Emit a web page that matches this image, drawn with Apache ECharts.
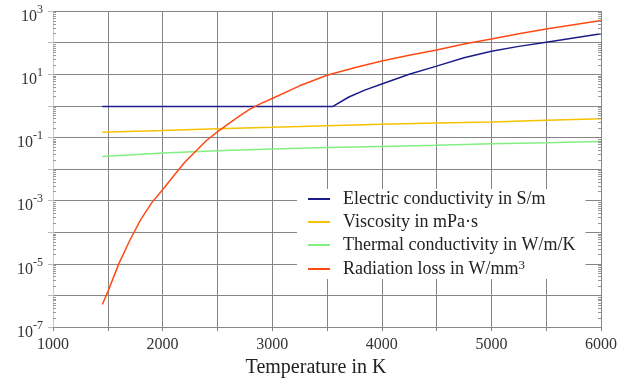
<!DOCTYPE html>
<html><head><meta charset="utf-8">
<script src="https://cdn.jsdelivr.net/npm/echarts@6/dist/echarts.min.js"></script>
<style>html,body{margin:0;padding:0;background:#fff}#c{width:629px;height:383px}</style>
</head><body><div id="c"></div>
<script>
// ---- data ----
const elecT = [1450, 3550, 3700, 3850, 4000, 4250, 4500, 4750, 5000, 5250, 5500, 5750, 6000];
const elecV = [0.95, 0.95, 1.9, 3.2, 4.9, 10, 18, 33, 53, 76, 103, 140, 190];
const viscT = [1450, 2000, 2500, 3000, 3500, 4000, 4500, 5000, 5500, 6000];
const viscV = [0.145, 0.165, 0.19, 0.21, 0.235, 0.26, 0.285, 0.31, 0.35, 0.39];
const thermT = [1450, 2000, 2500, 3000, 3500, 4000, 4500, 5000, 5500, 6000];
const thermV = [0.025, 0.032, 0.038, 0.043, 0.048, 0.052, 0.057, 0.063, 0.068, 0.075];
const radT = [1450, 1500, 1600, 1700, 1800, 1900, 2000, 2100, 2200, 2300, 2400, 2500, 2600, 2700, 2800, 2900, 3000, 3250, 3500, 3750, 4000, 4250, 4500, 4750, 5000, 5250, 5500, 5750, 6000];
const radV = [5.2e-7, 1.3e-6, 1e-5, 5.5e-5, 2.5e-4, 8.5e-4, 2.2e-3, 6e-3, 0.016, 0.036, 0.08, 0.15, 0.27, 0.47, 0.8, 1.2, 1.7, 4.3, 9.3, 16, 26, 40, 58, 90, 130, 190, 270, 370, 500];
const seriesNames = ['Electric conductivity in S/m', 'Viscosity in mPa·s', 'Thermal conductivity in W/m/K', 'Radiation loss in W/mm3'];
const seriesColors = ['#1c1c8a', '#f7c200', '#80f080', '#ff4a14'];
const xMin = 1000, xMax = 6000, xStep = 500, xLabelStep = 1000;
const yMin = 1e-7, yMax = 1e3;

const FONT = 'Liberation Serif';
function pairs(t, v) { return t.map((x, i) => [x, v[i]]); }

// minor log ticks (axis decoration)
const minorTicks = [];
for (let e = -7; e < 3; e++) for (let m = 2; m <= 9; m++) minorTicks.push([xMin, m * Math.pow(10, e)]);

const chart = echarts.init(document.getElementById('c'), null, {renderer: 'canvas'});
const line = (name, data, color) => ({
  name, type: 'line', data, showSymbol: false, symbol: 'none', animation: false,
  lineStyle: {color, width: 1.5}, itemStyle: {color}, z: 3
});
chart.setOption({
  animation: false,
  grid: {left: 53, right: 28, top: 11, bottom: 52},
  xAxis: {
    type: 'value', min: xMin, max: xMax, interval: xStep,
    name: 'Temperature in K', nameLocation: 'middle', nameGap: 27,
    nameTextStyle: {fontFamily: FONT, fontSize: 20, color: '#222', padding: [0, 22, 0, 0]},
    axisLine: {show: true, lineStyle: {color: '#888', width: 1}},
    axisTick: {show: true, inside: false, length: 4, lineStyle: {color: '#888'}},
    axisLabel: {
      fontFamily: FONT, fontSize: 16, color: '#333', margin: 10,
      formatter: function (v) { return v % xLabelStep === 0 ? String(v) : ''; }
    },
    splitLine: {show: true, lineStyle: {color: '#858585', width: 1}}
  },
  yAxis: {
    type: 'log', logBase: 10, min: yMin, max: yMax, interval: 1,
    axisLine: {show: true, lineStyle: {color: '#c8c8c8', width: 1}},
    axisTick: {show: true, inside: false, length: 5, lineStyle: {color: '#bbb'}},
    axisLabel: {
      margin: 10, padding: [11, 0, 0, 0], showMinLabel: true, showMaxLabel: true,
      formatter: function (v) {
        const e = Math.round(Math.log10(v));
        if (Math.abs(e) % 2 !== 1) return '';
        return '{b|10}{s|' + (e < 0 ? '-' + (-e) : e) + '}';
      },
      rich: {
        b: {fontFamily: FONT, fontSize: 16, color: '#333', lineHeight: 26},
        s: {fontFamily: FONT, fontSize: 12, color: '#333', verticalAlign: 'top'}
      }
    },
    splitLine: {show: true, lineStyle: {color: '#858585', width: 1}}
  },
  legend: {
    orient: 'vertical', left: 297, top: 189,
    data: seriesNames, icon: 'rect', itemWidth: 22, itemHeight: 2, itemGap: 5,
    backgroundColor: '#fff', padding: [1, 10, 1, 11],
    formatter: function (n) { return n.endsWith('mm3') ? '{t|' + n.slice(0, -1) + '}{s|3}' : '{t|' + n + '}'; },
    textStyle: {
      fontFamily: FONT, fontSize: 18, color: '#222',
      rich: {
        t: {fontFamily: FONT, fontSize: 18, color: '#222', lineHeight: 20, padding: [0, 0, 0, 8]},
        s: {fontFamily: FONT, fontSize: 13, color: '#222', verticalAlign: 'top'}
      }
    }
  },
  series: [
    line(seriesNames[0], pairs(elecT, elecV), seriesColors[0]),
    line(seriesNames[1], pairs(viscT, viscV), seriesColors[1]),
    line(seriesNames[2], pairs(thermT, thermV), seriesColors[2]),
    line(seriesNames[3], pairs(radT, radV), seriesColors[3]),
    {
      type: 'custom', coordinateSystem: 'cartesian2d', silent: true, data: minorTicks, z: 4, clip: false,
      renderItem: function (params, api) {
        const p = api.coord([api.value(0), api.value(1)]);
        const cs = params.coordSys;
        const y = Math.round(p[1]) + 0.5;
        const st = {stroke: '#999', lineWidth: 1};
        return {type: 'group', children: [
          {type: 'line', shape: {x1: cs.x, y1: y, x2: cs.x + 3, y2: y}, style: st},
          {type: 'line', shape: {x1: cs.x + cs.width - 3, y1: y, x2: cs.x + cs.width, y2: y}, style: st}
        ]};
      }
    }
  ]
});
</script></body></html>
